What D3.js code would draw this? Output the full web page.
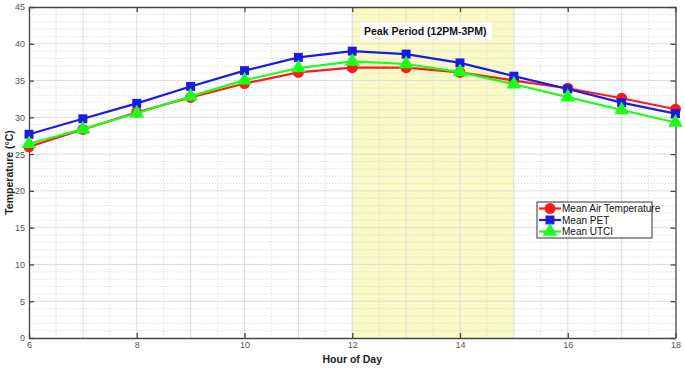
<!DOCTYPE html>
<html>
<head>
<meta charset="utf-8">
<script src="https://cdnjs.cloudflare.com/ajax/libs/d3/7.8.5/d3.min.js"></script>
<style>
  body { margin: 0; background: #fff; }
  text { font-family: "Liberation Sans", Arial, sans-serif; }
</style>
</head>
<body>
<div id="chart"></div>
<script>
// data
let hours = [6, 7, 8, 9, 10, 11, 12, 13, 14, 15, 16, 17, 18];
let airTemp = [26.0, 28.35, 30.7, 32.7, 34.6, 36.1, 36.75, 36.75, 36.1, 35.0, 33.95, 32.6, 31.1];
let pet = [27.7, 29.8, 31.9, 34.2, 36.35, 38.15, 39.0, 38.6, 37.4, 35.6, 33.85, 32.0, 30.5];
let utci = [26.4, 28.4, 30.55, 32.85, 35.05, 36.7, 37.6, 37.25, 36.15, 34.5, 32.75, 31.0, 29.3];
let xTicks = [6, 8, 10, 12, 14, 16, 18];
let yTicks = [0, 5, 10, 15, 20, 25, 30, 35, 40, 45];
let peakRange = [12, 15];

let svgWidth = 685;
let svgHeight = 368;

let margin = { top: 7, right: 10, bottom: 30, left: 29 };
let width = 675.5 - margin.left;
let height = 338 - margin.top;

let svg = d3.select("#chart")
    .append("svg")
    .attr("width", svgWidth)
    .attr("height", svgHeight);

let chartGroup = svg.append("g")
    .attr("transform", `translate(${margin.left}, ${margin.top})`);

let xScale = d3.scaleLinear().domain([6, 18]).range([0, width]);
let yScale = d3.scaleLinear().domain([0, 45]).range([height, 0]);

// peak period shading
chartGroup.append("rect")
    .attr("x", xScale(peakRange[0]))
    .attr("y", 0)
    .attr("width", xScale(peakRange[1]) - xScale(peakRange[0]))
    .attr("height", height)
    .attr("fill", "#fafac6");

// grid: every half hour and every degree
let xGrid = d3.range(6.5, 18, 0.5);
let yGrid = d3.range(1, 45, 1);

chartGroup.selectAll(".vgrid")
    .data(xGrid)
    .enter()
    .append("line")
    .attr("x1", d => xScale(d))
    .attr("x2", d => xScale(d))
    .attr("y1", 0)
    .attr("y2", height)
    .attr("stroke", d => d % 1 === 0 ? "#d4d4d4" : "#d8d8d8")
    .attr("stroke-width", 0.8)
    .attr("stroke-dasharray", d => d % 1 === 0 ? null : "1.5,1.5");

chartGroup.selectAll(".hgrid")
    .data(yGrid)
    .enter()
    .append("line")
    .attr("x1", 0)
    .attr("x2", width)
    .attr("y1", d => yScale(d))
    .attr("y2", d => yScale(d))
    .attr("stroke", d => d % 5 === 0 ? "#d4d4d4" : "#d8d8d8")
    .attr("stroke-width", 0.8)
    .attr("stroke-dasharray", d => d % 5 === 0 ? null : "1.5,1.5");

// axes with inward ticks on all four sides
let bottomAxis = d3.axisBottom(xScale).tickValues(xTicks).tickSizeInner(-5).tickSizeOuter(0).tickPadding(4);
let leftAxis = d3.axisLeft(yScale).tickValues(yTicks).tickSizeInner(-5).tickSizeOuter(0).tickPadding(4);
let topAxis = d3.axisTop(xScale).tickValues(xTicks).tickSizeInner(-5).tickSizeOuter(0).tickFormat("");
let rightAxis = d3.axisRight(yScale).tickValues(yTicks).tickSizeInner(-5).tickSizeOuter(0).tickFormat("");

function styleAxis(g) {
    g.select(".domain").attr("stroke", "#444").attr("stroke-width", 1.3);
    g.selectAll(".tick line").attr("stroke", "#444").attr("stroke-width", 1.3);
    g.selectAll(".tick text").attr("fill", "#555").attr("font-size", "9px");
}

chartGroup.append("g").attr("transform", `translate(0, ${height})`).call(bottomAxis).call(styleAxis);
chartGroup.append("g").call(leftAxis).call(styleAxis);
chartGroup.append("g").call(topAxis).call(styleAxis);
chartGroup.append("g").attr("transform", `translate(${width}, 0)`).call(rightAxis).call(styleAxis);

// series
let series = [
    { name: "Mean Air Temperature", values: airTemp, color: "#ff1a1a", marker: d3.symbolCircle, size: 95 },
    { name: "Mean PET", values: pet, color: "#1a1ae6", marker: d3.symbolSquare, size: 80 },
    { name: "Mean UTCI", values: utci, color: "#1aff1a", marker: d3.symbolTriangle, size: 95 }
];

let line = d3.line()
    .x(d => xScale(d[0]))
    .y(d => yScale(d[1]));

series.forEach(function (s) {
    let pts = hours.map((h, i) => [h, s.values[i]]);
    chartGroup.append("path")
        .datum(pts)
        .attr("d", line)
        .attr("fill", "none")
        .attr("stroke", s.color)
        .attr("stroke-width", 2.2);

    chartGroup.selectAll(null)
        .data(pts)
        .enter()
        .append("path")
        .attr("transform", d => `translate(${xScale(d[0])}, ${yScale(d[1])})`)
        .attr("d", d3.symbol().type(s.marker).size(s.size))
        .attr("fill", s.color);
});

// peak period label
let labelX = xScale(12.2);
let labelY = yScale(41.4);
chartGroup.append("rect")
    .attr("x", labelX - 3)
    .attr("y", labelY - 11)
    .attr("width", 132)
    .attr("height", 18)
    .attr("fill", "#fff");

chartGroup.append("text")
    .attr("x", labelX + 1)
    .attr("y", labelY + 2)
    .attr("font-size", "10.5px")
    .attr("font-weight", "bold")
    .attr("fill", "#111")
    .text("Peak Period (12PM-3PM)");

// legend
let legend = svg.append("g").attr("transform", "translate(537, 202)");
legend.append("rect")
    .attr("width", 115)
    .attr("height", 36)
    .attr("fill", "#fff")
    .attr("stroke", "#333")
    .attr("stroke-width", 1);

series.forEach(function (s, i) {
    let yy = 6.5 + i * 11.5;
    legend.append("line")
        .attr("x1", 2).attr("x2", 24)
        .attr("y1", yy).attr("y2", yy)
        .attr("stroke", s.color)
        .attr("stroke-width", 2.2);
    legend.append("path")
        .attr("transform", `translate(13, ${yy})`)
        .attr("d", d3.symbol().type(s.marker).size(s.size))
        .attr("fill", s.color);
    legend.append("text")
        .attr("x", 25)
        .attr("y", yy + 3.5)
        .attr("font-size", "10px")
        .attr("fill", "#111")
        .text(s.name);
});

// axis titles
svg.append("text")
    .attr("transform", `translate(10, ${margin.top + height / 2}) rotate(-90)`)
    .attr("text-anchor", "middle")
    .attr("dominant-baseline", "middle")
    .attr("font-size", "10.5px")
    .attr("font-weight", "bold")
    .attr("fill", "#222")
    .text("Temperature (°C)");

svg.append("text")
    .attr("x", margin.left + width / 2)
    .attr("y", 363)
    .attr("text-anchor", "middle")
    .attr("font-size", "10.5px")
    .attr("font-weight", "bold")
    .attr("fill", "#222")
    .text("Hour of Day");
</script>
</body>
</html>
